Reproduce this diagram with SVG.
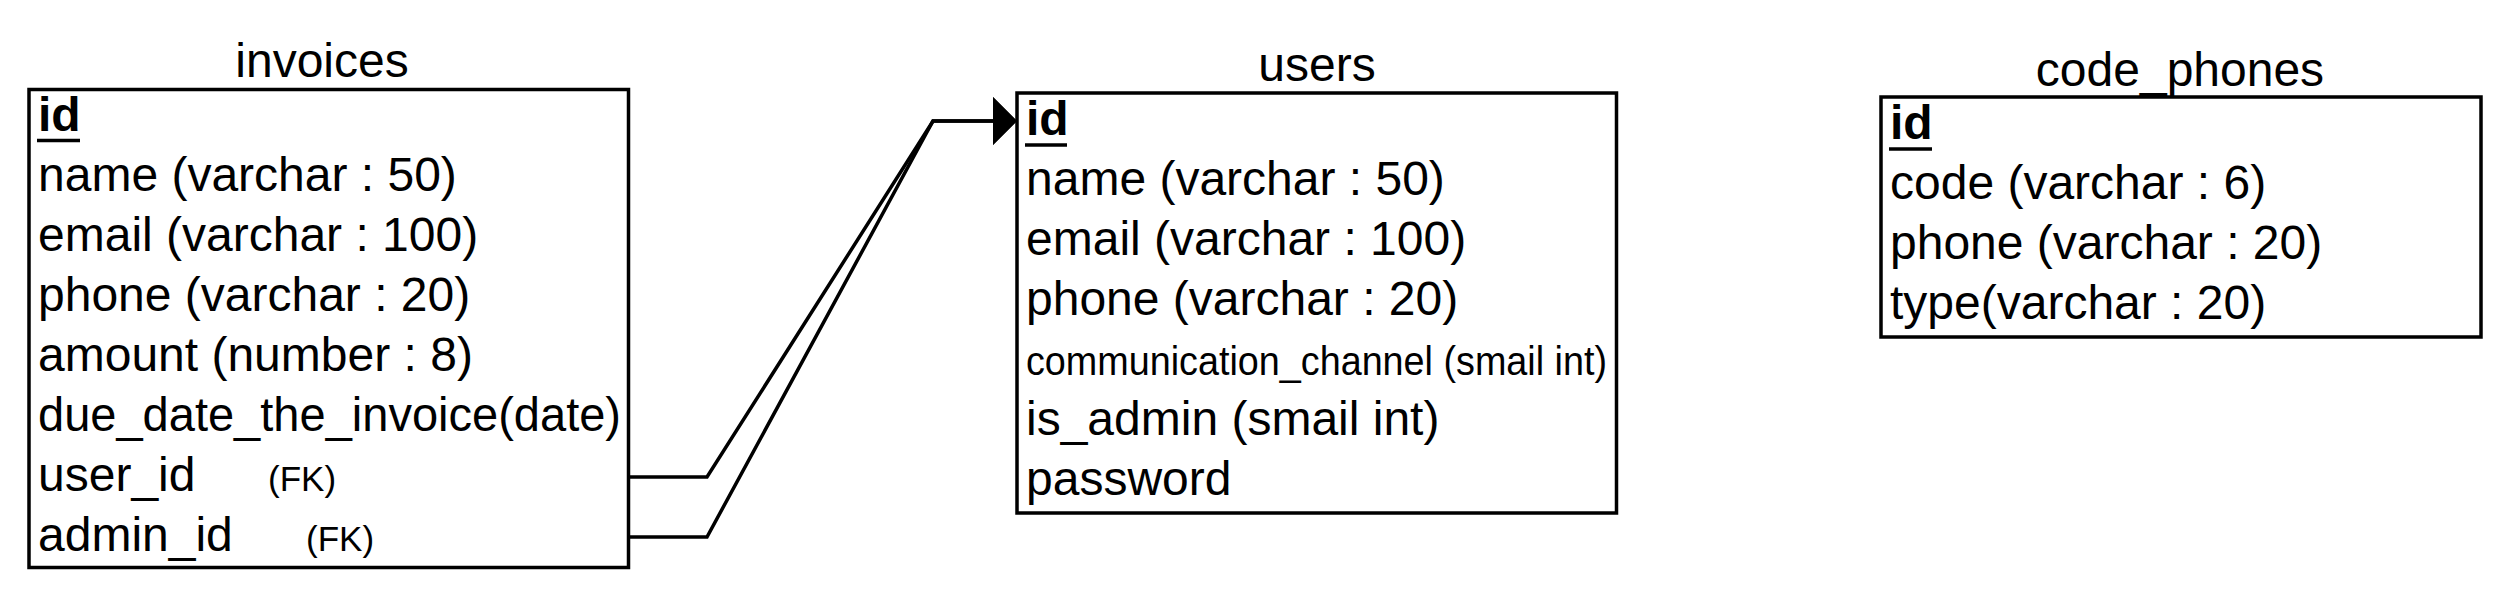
<svg xmlns="http://www.w3.org/2000/svg" width="2508" height="596" viewBox="0 0 2508 596">
<style>
text{font-family:"Liberation Sans",Arial,Helvetica,sans-serif;fill:#000}
.title{font-size:48px;text-anchor:middle}
.row{font-size:48px}
.pk{font-size:48px;font-weight:bold}
.fk{font-size:35px}
.box{fill:#fff;stroke:#000;stroke-width:3.5}
.ul{stroke:#000;stroke-width:3.5}
.conn{fill:none;stroke:#000;stroke-width:3.5;stroke-linejoin:miter}
</style>
<defs>
<marker id="block" viewBox="0 0 24 48" refX="0" refY="24" markerWidth="24" markerHeight="48" markerUnits="userSpaceOnUse" orient="auto">
<path d="M0,0 L24,24 L0,48 Z" fill="#000"/>
</marker>
</defs>
<rect width="2508" height="596" fill="#fff"/>
<g id="connectors">
<path class="conn" d="M629,477 H707 L933,121 H993" marker-end="url(#block)"/>
<path class="conn" d="M629,537 H707 L933,121 H993" marker-end="url(#block)"/>
</g>
<g id="invoices">
<text class="title" x="322" y="77">invoices</text>
<rect class="box" x="29" y="89.5" width="599.5" height="478"/>
<text class="pk" x="38" y="131">id</text>
<line class="ul" x1="37" y1="140.5" x2="80" y2="140.5"/>
<text class="row" x="38" y="191">name (varchar : 50)</text>
<text class="row" x="38" y="251">email (varchar : 100)</text>
<text class="row" x="38" y="311">phone (varchar : 20)</text>
<text class="row" x="38" y="371">amount (number : 8)</text>
<text class="row" x="38" y="431" textLength="583" lengthAdjust="spacingAndGlyphs">due_date_the_invoice(date)</text>
<text class="row" x="38" y="491">user_id</text>
<text class="fk" x="268" y="491">(FK)</text>
<text class="row" x="38" y="551">admin_id</text>
<text class="fk" x="306" y="551">(FK)</text>
</g>
<g id="users">
<text class="title" x="1317" y="81">users</text>
<rect class="box" x="1017" y="93" width="599.5" height="420"/>
<text class="pk" x="1026" y="135">id</text>
<line class="ul" x1="1025" y1="145" x2="1067" y2="145"/>
<text class="row" x="1026" y="195">name (varchar : 50)</text>
<text class="row" x="1026" y="255">email (varchar : 100)</text>
<text class="row" x="1026" y="315">phone (varchar : 20)</text>
<text class="row" x="1026" y="375" style="font-size:41px" textLength="581" lengthAdjust="spacingAndGlyphs">communication_channel (smail int)</text>
<text class="row" x="1026" y="435">is_admin (smail int)</text>
<text class="row" x="1026" y="495">password</text>
</g>
<g id="code_phones">
<text class="title" x="2180" y="86">code_phones</text>
<rect class="box" x="1881" y="97" width="600" height="240"/>
<text class="pk" x="1890" y="139">id</text>
<line class="ul" x1="1889" y1="149" x2="1932" y2="149"/>
<text class="row" x="1890" y="199">code (varchar : 6)</text>
<text class="row" x="1890" y="259">phone (varchar : 20)</text>
<text class="row" x="1890" y="319">type(varchar : 20)</text>
</g>
</svg>
